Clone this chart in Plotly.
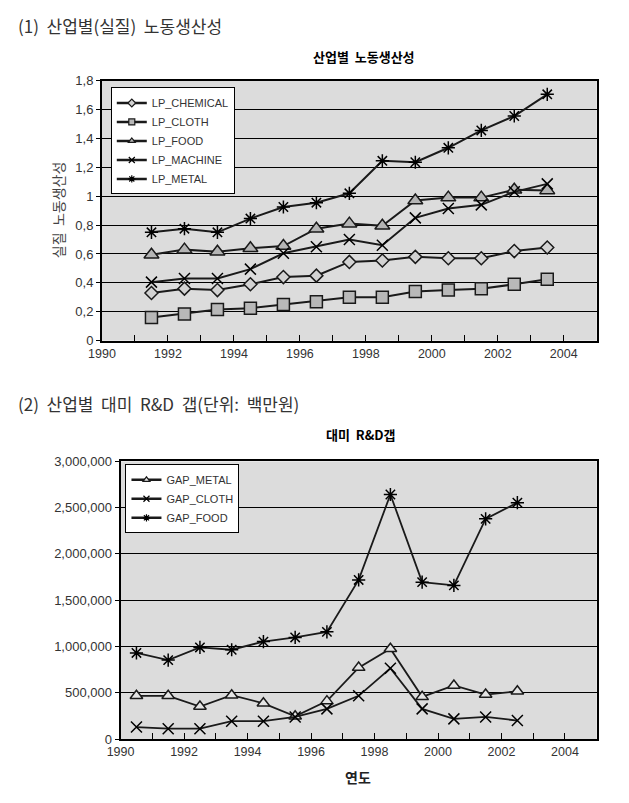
import plotly.graph_objects as go

W, H = 629, 803

# (1) 산업별 실질 노동생산성
lp_years = [1991, 1992, 1993, 1994, 1995, 1996, 1997, 1998, 1999, 2000, 2001, 2002, 2003]
lp_chemical = [0.33, 0.36, 0.35, 0.39, 0.44, 0.45, 0.545, 0.555, 0.58, 0.57, 0.57, 0.62, 0.645]
lp_cloth = [0.16, 0.185, 0.215, 0.225, 0.25, 0.27, 0.30, 0.30, 0.34, 0.35, 0.36, 0.39, 0.425]
lp_food = [0.595, 0.63, 0.615, 0.64, 0.655, 0.775, 0.81, 0.795, 0.97, 0.99, 0.99, 1.045, 1.04]
lp_machine = [0.405, 0.43, 0.43, 0.495, 0.605, 0.65, 0.70, 0.66, 0.85, 0.915, 0.94, 1.03, 1.085]
lp_metal = [0.75, 0.775, 0.75, 0.845, 0.925, 0.955, 1.02, 1.245, 1.235, 1.335, 1.455, 1.555, 1.705]

# (2) 산업별 대미 R&D 갭 (백만원)
gap_years = [1990, 1991, 1992, 1993, 1994, 1995, 1996, 1997, 1998, 1999, 2000, 2001, 2002]
gap_metal = [467000, 467000, 351000, 474000, 386000, 246000, 410000, 772000, 975000, 456000, 579000, 481000, 516000]
gap_cloth = [130000, 112000, 112000, 193000, 193000, 239000, 326000, 467000, 765000, 326000, 218000, 239000, 200000]
gap_food = [930000, 853000, 990000, 965000, 1053000, 1098000, 1158000, 1719000, 2642000, 1695000, 1660000, 2379000, 2554000]

lp_ticks = [0, 0.2, 0.4, 0.6, 0.8, 1.0, 1.2, 1.4, 1.6, 1.8]
lp_ticktext = ["0", "0,2", "0,4", "0,6", "0,8", "1", "1,2", "1,4", "1,6", "1,8"]
year_ticks = [1990, 1992, 1994, 1996, 1998, 2000, 2002, 2004]

KR = "Noto Sans CJK KR"
LAT = "Liberation Sans"
BG = "#dcdcdc"


def px_x(p):
    return p / W


def px_y(p):
    return 1 - p / H


# points sit midway between the yearly tick marks, as in the source chart
def mid(years):
    return [y + 0.5 for y in years]


fig = go.Figure()

top_series = [
    ("LP_CHEMICAL", lp_chemical, "diamond", 10, "#d2d2d2"),
    ("LP_CLOTH", lp_cloth, "square", 12, "#b8b8b8"),
    ("LP_FOOD", lp_food, "triangle-up", 13, "#b4b4b4"),
    ("LP_MACHINE", lp_machine, "x-thin-open", 11, "black"),
    ("LP_METAL", lp_metal, "asterisk-open", 11, "black"),
]
for name, vals, sym, size, fill in top_series:
    fig.add_trace(go.Scatter(
        x=mid(lp_years), y=vals, name=name, mode="lines+markers",
        xaxis="x", yaxis="y", showlegend=False,
        line=dict(color="#1a1a1a", width=2),
        marker=dict(symbol=sym, size=size, color=fill,
                    line=dict(color="#1a1a1a", width=1.5)),
    ))
    # small legend sample
    fig.add_trace(go.Scatter(
        x=[None], y=[None], name=name, mode="lines+markers",
        xaxis="x", yaxis="y", legend="legend",
        line=dict(color="#1a1a1a", width=2.5),
        marker=dict(symbol=sym, size=6, color=fill,
                    line=dict(color="#1a1a1a", width=1.2)),
    ))

bottom_series = [
    ("GAP_METAL", gap_metal, "triangle-up", 11, "#e4e4e4"),
    ("GAP_CLOTH", gap_cloth, "x-thin-open", 11, "black"),
    ("GAP_FOOD", gap_food, "asterisk-open", 11, "black"),
]
for name, vals, sym, size, fill in bottom_series:
    fig.add_trace(go.Scatter(
        x=mid(gap_years), y=vals, name=name, mode="lines+markers",
        xaxis="x2", yaxis="y2", showlegend=False,
        line=dict(color="#1a1a1a", width=1.8),
        marker=dict(symbol=sym, size=size, color=fill,
                    line=dict(color="#1a1a1a", width=1.5)),
    ))
    fig.add_trace(go.Scatter(
        x=[None], y=[None], name=name, mode="lines+markers",
        xaxis="x2", yaxis="y2", legend="legend2",
        line=dict(color="#1a1a1a", width=2.5),
        marker=dict(symbol=sym, size=6, color=fill,
                    line=dict(color="#1a1a1a", width=1.2)),
    ))

xaxis_common = dict(
    range=[1990, 2005], tickvals=year_ticks, ticks="inside", ticklen=6,
    tickcolor="black", showgrid=False, zeroline=False,
    showline=True, linecolor="black", linewidth=2, mirror=True,
    minor=dict(dtick=1, tick0=1990, ticks="inside", ticklen=6, tickcolor="black", showgrid=False),
    tickfont=dict(family=LAT, size=12.5, color="#333"),
)
yaxis_common = dict(
    ticks="outside", ticklen=4, tickcolor="black",
    showgrid=True, gridcolor="black", gridwidth=1, zeroline=False,
    showline=True, linecolor="black", linewidth=2, mirror=True,
    tickfont=dict(family=LAT, size=13, color="#333"),
)

fig.update_layout(
    width=W, height=H,
    margin=dict(l=0, r=0, t=0, b=0),
    paper_bgcolor="white", plot_bgcolor=BG,
    xaxis=dict(domain=[px_x(90), px_x(596)], anchor="y", **xaxis_common),
    yaxis=dict(domain=[px_y(340), px_y(75)], anchor="x", range=[0, 1.8],
               tickvals=lp_ticks, ticktext=lp_ticktext, **yaxis_common),
    xaxis2=dict(domain=[px_x(109), px_x(596)], anchor="y2", **xaxis_common),
    yaxis2=dict(domain=[px_y(746), px_y(463)], anchor="x2", range=[0, 3000000],
                dtick=500000, tickformat=",", **yaxis_common),
    legend=dict(
        x=px_x(99), y=px_y(82), xanchor="left", yanchor="top",
        bgcolor="white", bordercolor="black", borderwidth=1,
        font=dict(family=LAT, size=11, color="#333"), itemwidth=30,
        tracegroupgap=0,
    ),
    legend2=dict(
        x=px_x(114), y=px_y(466), xanchor="left", yanchor="top",
        bgcolor="white", bordercolor="black", borderwidth=1,
        font=dict(family=LAT, size=11, color="#333"), itemwidth=30,
        tracegroupgap=0,
    ),
    showlegend=True,
)

annotations = [
    dict(text="(1)  산업별(실질)  노동생산성", x=px_x(2), y=px_y(19), xanchor="left",
         font=dict(family=KR, size=17, color="#333")),
    dict(text="<b>산업별  노동생산성</b>", x=px_x(358), y=px_y(50), xanchor="center",
         font=dict(family=KR, size=13, color="black")),
    dict(text="실질  노동생산성", x=px_x(45), y=px_y(207), xanchor="center", textangle=-90,
         font=dict(family=KR, size=14, color="#444")),
    dict(text="(2)  산업별  대미  R&D  갭(단위:  백만원)", x=px_x(2), y=px_y(404), xanchor="left",
         font=dict(family=KR, size=17, color="#333")),
    dict(text="<b>대미  R&D갭</b>", x=px_x(355), y=px_y(436), xanchor="center",
         font=dict(family=KR, size=13, color="black")),
    dict(text="<b>연도</b>", x=px_x(352), y=px_y(785), xanchor="center",
         font=dict(family=KR, size=14, color="#222")),
]
for a in annotations:
    fig.add_annotation(xref="paper", yref="paper", yanchor="middle", showarrow=False, **a)

# drop the browser's default body margin so the figure sits at the page origin
fig.write_html("out.html", config={"displayModeBar": False},
               post_script="document.body.style.margin='0';")
